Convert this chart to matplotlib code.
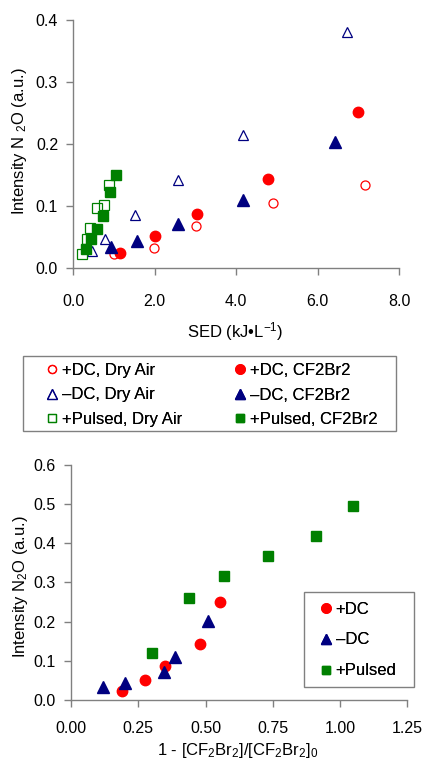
import matplotlib
matplotlib.use("Agg")
import matplotlib.pyplot as plt
from matplotlib.patches import Rectangle

plt.rcParams["font.family"] = ["Liberation Sans", "DejaVu Sans"]
plt.rcParams["mathtext.fontset"] = "custom"
plt.rcParams["mathtext.rm"] = "Liberation Sans"
plt.rcParams["mathtext.it"] = "Liberation Sans:italic"
plt.rcParams["mathtext.bf"] = "Liberation Sans:bold"

# ---- Upper panel: N2O intensity vs specific energy density ----
sed_dc_air = [1.01, 1.97, 3.01, 4.91, 7.17]
n2o_dc_air = [0.0225, 0.032, 0.0676, 0.104, 0.134]
sed_dc_cf = [1.14, 2.00, 3.05, 4.78, 7.00]
n2o_dc_cf = [0.0236, 0.0515, 0.0869, 0.1426, 0.2504]
sed_ndc_air = [0.45, 0.77, 1.51, 2.56, 4.18, 6.72]
n2o_ndc_air = [0.028, 0.046, 0.0858, 0.1416, 0.2145, 0.380]
sed_ndc_cf = [0.93, 1.56, 2.56, 4.18, 6.44]
n2o_ndc_cf = [0.033, 0.044, 0.0708, 0.109, 0.2027]
sed_pul_air = [0.21, 0.33, 0.41, 0.57, 0.75, 0.87]
n2o_pul_air = [0.022, 0.046, 0.064, 0.097, 0.102, 0.133]
sed_pul_cf = [0.31, 0.43, 0.57, 0.73, 0.90, 1.04]
n2o_pul_cf = [0.030, 0.046, 0.062, 0.084, 0.122, 0.150]

# ---- Lower panel: N2O intensity vs CF2Br2 conversion ----
conv_dc = [0.19, 0.274, 0.349, 0.479, 0.555]
conv_ndc = [0.119, 0.20, 0.344, 0.385, 0.509]
conv_pul = [0.30, 0.437, 0.57, 0.733, 0.91, 1.05]
n2o_pul = [0.12, 0.26, 0.317, 0.367, 0.418, 0.494]

top_xticks = [0, 2, 4, 6, 8]
top_xticklabels = ["0.0", "2.0", "4.0", "6.0", "8.0"]
top_yticks = [0.0, 0.1, 0.2, 0.3, 0.4]
bot_xticks = [0.0, 0.25, 0.5, 0.75, 1.0, 1.25]
bot_yticks = [0.0, 0.1, 0.2, 0.3, 0.4, 0.5, 0.6]

RED = "#ff0000"
NAVY = "#000080"
GREEN = "#008000"
SPINE = "#808080"

W, H = 426, 760
fig = plt.figure(figsize=(W / 100, H / 100), dpi=100)


def fx(px):
    return px / W


def fy(py):
    return (H - py) / H


def style_axes(ax, xpad, fs):
    for s in ("top", "right"):
        ax.spines[s].set_visible(False)
    for s in ("left", "bottom"):
        ax.spines[s].set_color(SPINE)
        ax.spines[s].set_linewidth(1.0)
    ax.tick_params(direction="out", length=5, width=1.0, color=SPINE,
                   labelsize=fs, labelcolor="black")
    ax.tick_params(axis="x", pad=xpad)
    ax.tick_params(axis="y", pad=6)


def boxed_legend(handles, labels, x_anchor, y_center, spacing):
    leg = fig.legend(handles, labels, loc="center left",
                     bbox_to_anchor=(fx(x_anchor), fy(y_center)),
                     borderaxespad=0, borderpad=0, fontsize=12, frameon=False,
                     handlelength=0.8, handletextpad=0.2,
                     labelspacing=spacing, markerscale=0.9)
    fig.add_artist(leg)
    return leg


def frame(x0, y0, x1, y1):
    fig.add_artist(Rectangle((fx(x0), fy(y1)), fx(x1) - fx(x0), fy(y0) - fy(y1),
                             transform=fig.transFigure, fill=False,
                             edgecolor=SPINE, linewidth=1.0))


ax1 = fig.add_axes([fx(73.3), fy(268), fx(399) - fx(73.3), fy(19.5) - fy(268)])
p_dc_air, = ax1.plot(sed_dc_air, n2o_dc_air, "o", ms=6.5, mfc="none", mec=RED,
                     mew=0.9, label="+DC, Dry Air")
p_ndc_air, = ax1.plot(sed_ndc_air, n2o_ndc_air, "^", ms=7.5, mfc="none", mec=NAVY,
                      mew=0.9, label="\u2013DC, Dry Air")
p_pul_air, = ax1.plot(sed_pul_air, n2o_pul_air, "s", ms=6.8, mfc="none", mec=GREEN,
                      mew=0.9, label="+Pulsed, Dry Air")
p_dc_cf, = ax1.plot(sed_dc_cf, n2o_dc_cf, "o", ms=7.5, color=RED,
                    label="+DC, CF2Br2")
p_ndc_cf, = ax1.plot(sed_ndc_cf, n2o_ndc_cf, "^", ms=8, color=NAVY,
                     label="\u2013DC, CF2Br2")
p_pul_cf, = ax1.plot(sed_pul_cf, n2o_pul_cf, "s", ms=7, color=GREEN,
                     label="+Pulsed, CF2Br2")
ax1.set_xlim(0, 8)
ax1.set_ylim(0, 0.4)
ax1.set_xticks(top_xticks)
ax1.set_xticklabels(top_xticklabels)
ax1.set_yticks(top_yticks)
ax1.set_yticklabels([f"{v:.1f}" for v in top_yticks])
style_axes(ax1, 14, 11.5)

fig.text(fx(235.5), fy(331.7), r"SED (kJ•L$\mathregular{^{-1}}$)",
         fontsize=12, ha="center", va="center")
fig.text(fx(20), fy(141.5), r"Intensity N $\mathregular{_2}$O (a.u.)",
         fontsize=12, ha="center", va="center", rotation=90)

# two-column legend below the upper panel
frame(23, 356, 396, 431)
left_items = [p_dc_air, p_ndc_air, p_pul_air]
right_items = [p_dc_cf, p_ndc_cf, p_pul_cf]
boxed_legend(left_items, [h.get_label() for h in left_items], 45.3, 395, 0.57)
boxed_legend(right_items, [h.get_label() for h in right_items], 233.3, 395, 0.57)

# ---- lower panel ----
ax2 = fig.add_axes([fx(71), fy(700), fx(407.3) - fx(71), fy(464.7) - fy(700)])
q_dc, = ax2.plot(conv_dc, n2o_dc_cf, "o", ms=7.5, color=RED, label="+DC")
q_ndc, = ax2.plot(conv_ndc, n2o_ndc_cf, "^", ms=8, color=NAVY, label="\u2013DC")
q_pul, = ax2.plot(conv_pul, n2o_pul, "s", ms=7, color=GREEN, label="+Pulsed")
ax2.set_xlim(0, 1.25)
ax2.set_ylim(0, 0.6)
ax2.set_xticks(bot_xticks)
ax2.set_xticklabels([f"{v:.2f}" for v in bot_xticks])
ax2.set_yticks(bot_yticks)
ax2.set_yticklabels([f"{v:.1f}" for v in bot_yticks])
style_axes(ax2, 10, 11.5)

fig.text(fx(238), fy(750),
         r"1 - [CF$\mathregular{_2}$Br$\mathregular{_2}$]/[CF$\mathregular{_2}$Br$\mathregular{_2}$]$\mathregular{_0}$",
         fontsize=12, ha="center", va="center")
fig.text(fx(21), fy(587), r"Intensity N$\mathregular{_2}$O (a.u.)",
         fontsize=12, ha="center", va="center", rotation=90)

frame(303.7, 592, 414, 686.7)
boxed_legend([q_dc, q_ndc, q_pul], ["+DC", "\u2013DC", "+Pulsed"], 319, 640, 0.95)

fig.savefig("out.png", dpi=100)
